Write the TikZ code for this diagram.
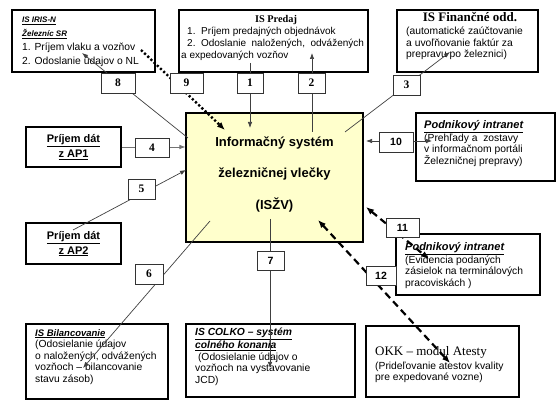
\documentclass[tikz,border=0pt]{standalone}
\usepackage{fontspec}
\setmainfont{Liberation Sans}
\newfontfamily\serifed{Liberation Serif}
\usetikzlibrary{arrows.meta}

\begin{document}
\begin{tikzpicture}[x=1pt,y=-1pt,
  sysbox/.style={draw,line width=1.1pt,fill=white,inner sep=0pt},
  boxtext/.style={anchor=north west,inner sep=0pt,align=left,font=\fontsize{10.3}{11.6}\selectfont},
  numbox/.style={draw=black!80,line width=0.7pt,fill=white,inner sep=0pt,minimum height=20pt,minimum width=#1,font=\serifed\bfseries\fontsize{11.5}{11.5}\selectfont},
  numbox/.default=27pt,
  sansnum/.style={font=\bfseries\fontsize{10.5}{10.5}\selectfont},
  link/.style={draw=black!75,line width=0.7pt},
  toarrow/.style={-{Latex[length=6pt,width=4.5pt]}},
  twoarrow/.style={{Latex[length=6pt,width=4.5pt]}-{Latex[length=6pt,width=4.5pt]}},
  bigto/.style={-{Latex[length=8pt,width=6.5pt]}},
  bigboth/.style={{Latex[length=8pt,width=6.5pt]}-{Latex[length=8pt,width=6.5pt]}},
  dashlink/.style={draw=black,line width=2.2pt,dash pattern=on 7pt off 4.5pt},
  dotlink/.style={draw=black,line width=2.4pt,dash pattern=on 2.2pt off 2.2pt}]
\useasboundingbox (0,0) rectangle (557,411);

\node[sysbox,minimum width=143pt,minimum height=62pt] (iris) at (83.5,41) {};
\node[boxtext,font=\fontsize{10.3}{14}\selectfont] (iristxt) at (22,17)
  {{\fontsize{8}{14}\selectfont\textbf{\textit{\underline{IS IRIS-N}}}}\\
   {\fontsize{8}{14}\selectfont\textbf{\textit{\underline{Železníc SR}}}}\\
   1. Príjem vlaku a vozňov\\2. Odoslanie údajov o NL};

\node[sysbox,minimum width=189pt,minimum height=62pt] (predaj) at (273.5,41) {};
\node[font=\serifed\bfseries\fontsize{10.3}{10}\selectfont] (predajhead) at (276,20) {IS Predaj};
\node[boxtext,font=\fontsize{10}{12}\selectfont] (predajtxt) at (181,27)
  {\hspace*{6pt}1.\ \ Príjem predajných objednávok\\
   \hspace*{6pt}2.\ \ Odoslanie\ \ naložených,\ \ odvážených\\
   a expedovaných vozňov};

\node[sysbox,minimum width=141pt,minimum height=62pt] (fin) at (467.5,41) {};
\node[font=\serifed\bfseries\fontsize{13}{13}\selectfont] (finhead) at (470,17) {IS Finančné odd.};
\node[boxtext,font=\fontsize{10.3}{11.5}\selectfont] (fintxt) at (406,27)
  {(automatické zaúčtovanie\\a uvoľňovanie faktúr za\\prepravu po železnici)};

\node[sysbox,fill={rgb,255:red,255;green,255;blue,204},minimum width=177pt,minimum height=129pt] (main) at (274.5,177.5) {};
\node[align=center,font=\bfseries\fontsize{13}{31.5}\selectfont] (maintxt) at (274.5,174)
  {Informačný systém\\železničnej vlečky\\(ISŽV)};

\node[sysbox,minimum width=95pt,minimum height=40pt,align=center,font=\bfseries\fontsize{11}{15}\selectfont] (ap1) at (73.5,147)
  {\underline{Príjem dát}\\\underline{z AP1}};
\node[sysbox,minimum width=95pt,minimum height=41pt,align=center,font=\bfseries\fontsize{11}{15}\selectfont] (ap2) at (73.5,243.5)
  {\underline{Príjem dát}\\\underline{z AP2}};

\node[sysbox,minimum width=139pt,minimum height=68pt] (intra1) at (485.5,147) {};
\node[boxtext] (intra1txt) at (424,120)
  {{\fontsize{11}{11.6}\selectfont\textbf{\textit{\underline{Podnikový intranet}}}}\\
   (Prehľady a\ \ zostavy\\v informačnom portáli\\Železničnej prepravy)};

\node[sysbox,minimum width=144pt,minimum height=61pt] (intra2) at (468,264.5) {};
\node[boxtext] (intra2txt) at (405,242)
  {{\fontsize{11}{11.6}\selectfont\textbf{\textit{\underline{Podnikový intranet}}}}\\
   (Evidencia podaných\\zásielok na terminálových\\pracoviskách )};

\node[sysbox,minimum width=142pt,minimum height=75pt] (bil) at (97,361.5) {};
\node[boxtext] (biltxt) at (35,329)
  {{\fontsize{9.5}{11.6}\selectfont\textbf{\textit{\underline{IS Bilancovanie}}}}\\
   (Odosielanie údajov\\o naložených, odvážených\\vozňoch – bilancovanie\\stavu zásob)};

\node[sysbox,minimum width=169pt,minimum height=73pt] (colko) at (270.5,360.5) {};
\node[boxtext] (colkotxt) at (195,328)
  {\textbf{\textit{\underline{IS COLKO – systém}}}\\
   \textbf{\textit{\underline{colného konania}}}\\
   \ (Odosielanie údajov o\\vozňoch na vystavovanie\\JCD)};

\node[sysbox,minimum width=153pt,minimum height=71pt] (okk) at (442.5,361.5) {};
\node[anchor=west,inner sep=0pt,font=\serifed\fontsize{13}{13}\selectfont] (okkhead) at (375,352) {OKK – modul Atesty};
\node[boxtext,font=\fontsize{10.3}{11}\selectfont] (okktxt) at (375,362)
  {(Prideľovanie atestov kvality\\pre expedované vozne)};

\coordinate (m8) at (188,138);
\coordinate (i8) at (82,53);
\coordinate (i9) at (141,50);
\coordinate (m9) at (225,130);
\coordinate (p1) at (250,63);
\coordinate (m1) at (250,128);
\coordinate (m2) at (312,132);
\coordinate (p2) at (312,53);
\coordinate (m3) at (345,132);
\coordinate (f3) at (450,52);
\coordinate (a5) at (73,230);
\coordinate (m5) at (186,170);
\coordinate (m6) at (210,221);
\coordinate (b6) at (83,368);
\coordinate (m7) at (270,219);
\coordinate (c7) at (270,368);
\coordinate (m10) at (366,141);
\coordinate (t10) at (432,141);
\coordinate (m11) at (366,207);
\coordinate (t11) at (429,259);
\coordinate (m12) at (318,220);
\coordinate (o12) at (450,363);

\draw[link,toarrow] (m8) -- (i8);
\draw[dotlink,bigto] (i9) -- (m9);
\draw[link,toarrow] (p1) -- (m1);
\draw[link,toarrow] (m2) -- (p2);
\draw[link,toarrow] (m3) -- (f3);
\draw[link,draw=black!55,toarrow] (ap1.east) -- (ap1.east -| main.west);
\draw[link,toarrow] (a5) -- (m5);
\draw[link,toarrow] (m6) -- (b6);
\draw[link,toarrow] (m7) -- (c7);
\draw[link,twoarrow] (m10) -- (t10);
\draw[dashlink,bigboth] (m11) -- (t11);
\draw[dashlink,bigboth] (m12) -- (o12);

\node[numbox=34pt] (n8) at (118,83) {8};
\node[numbox=33pt] (n9) at (186.5,83) {9};
\node[numbox=26pt] (n1) at (250,83) {1};
\node[numbox=27pt] (n2) at (311.5,83) {2};
\node[numbox=27pt] (n3) at (406.5,85) {3};
\node[numbox=34pt,minimum height=19pt] (n4) at (152,147.5) {4};
\node[numbox=27pt] (n5) at (141.5,189) {5};
\node[numbox=28pt] (n6) at (149,274) {6};
\node[numbox=27pt,minimum height=19pt,sansnum] (n7) at (270.5,260.5) {7};
\node[numbox=34pt,sansnum] (n10) at (396,142) {10};
\node[numbox=33pt,minimum height=19pt,sansnum] (n11) at (402.5,227.5) {11};
\node[numbox=30pt,minimum height=19pt,sansnum] (n12) at (381,275.5) {12};
\end{tikzpicture}
\end{document}
